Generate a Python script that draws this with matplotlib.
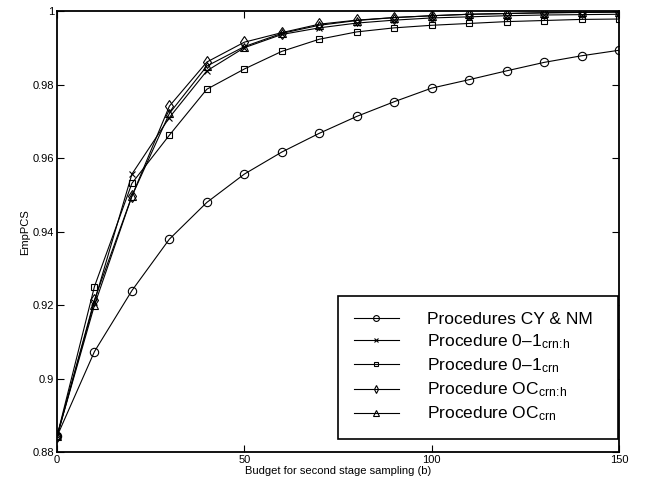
import numpy as np
import matplotlib
matplotlib.use("Agg")
import matplotlib.pyplot as plt

# === Data ===
budget = [0, 10, 20, 30, 40, 50, 60, 70, 80, 90, 100, 110, 120, 130, 140, 150]

cy_nm = [0.8843, 0.9074, 0.9240, 0.9380, 0.9480, 0.9557, 0.9617, 0.9668,
         0.9714, 0.9754, 0.9791, 0.9814, 0.9838, 0.9861, 0.9879, 0.9894]
zo_crnh = [0.8843, 0.9210, 0.9557, 0.9711, 0.9838, 0.9901, 0.9937, 0.9955,
           0.9968, 0.9976, 0.9982, 0.9985, 0.9988, 0.9990, 0.9991, 0.9992]
zo_crn = [0.8843, 0.9251, 0.9532, 0.9663, 0.9788, 0.9843, 0.9891, 0.9924,
          0.9944, 0.9955, 0.9962, 0.9967, 0.9972, 0.9975, 0.9978, 0.9979]
oc_crnh = [0.8843, 0.9215, 0.9497, 0.9742, 0.9862, 0.9916, 0.9942, 0.9965,
           0.9976, 0.9983, 0.9988, 0.9992, 0.9994, 0.9996, 0.9997, 0.9998]
oc_crn = [0.8843, 0.9200, 0.9497, 0.9722, 0.9851, 0.9904, 0.9940, 0.9962,
          0.9975, 0.9983, 0.9988, 0.9992, 0.9994, 0.9996, 0.9997, 0.9998]

labels = [
    "Procedures CY & NM",
    "Procedure 0\u20131$_{\\mathrm{crn\\!:\\!h}}$",
    "Procedure 0\u20131$_{\\mathrm{crn}}$",
    "Procedure OC$_{\\mathrm{crn\\!:\\!h}}$",
    "Procedure OC$_{\\mathrm{crn}}$",
]
series = [cy_nm, zo_crnh, zo_crn, oc_crnh, oc_crn]
markers = ["o", "x", "s", "d", "^"]
msizes = [6, 4, 5, 6, 6]

# === Style ===
plt.rcParams["font.family"] = ["Liberation Sans", "DejaVu Sans"]
plt.rcParams["mathtext.fontset"] = "custom"
plt.rcParams["mathtext.rm"] = "Liberation Sans"
plt.rcParams["mathtext.it"] = "Liberation Sans:italic"

fig = plt.figure(figsize=(6.46, 4.88), dpi=100)
ax = fig.add_axes([0.0882, 0.0732, 0.870, 0.9036])

for y, lab, m, ms in zip(series, labels, markers, msizes):
    ax.plot(budget, y, color="black", linewidth=0.8, marker=m, markersize=ms,
            markerfacecolor="none", markeredgecolor="black", markeredgewidth=0.8,
            label=lab)

ax.set_xlim(0, 150)
ax.set_ylim(0.88, 1.0)
ax.set_xticks([0, 50, 100, 150])
ax.set_yticks([0.88, 0.9, 0.92, 0.94, 0.96, 0.98, 1.0])
ax.set_yticklabels(["0.88", "0.9", "0.92", "0.94", "0.96", "0.98", "1"])
ax.tick_params(direction="in", top=True, right=True, labelsize=8, length=5, width=0.8, pad=2)
for sp in ax.spines.values():
    sp.set_linewidth(1.3)

ax.set_xlabel("Budget for second stage sampling (b)", fontsize=8, labelpad=1)
ax.set_ylabel("EmpPCS", fontsize=8, labelpad=2)

# Legend box spans x from 0.5 to ~0.998 in axes coords
leg = ax.legend(loc="lower left", bbox_to_anchor=(0.5, 0.03, 0.498, 0.4), mode="expand",
                borderaxespad=0, fontsize=12.5, fancybox=False, framealpha=1,
                edgecolor="black", handlelength=2.6, handletextpad=1.6,
                labelspacing=0.31, borderpad=0.9, markerscale=0.7)
leg.get_frame().set_linewidth(1.2)

# === Save ===
plt.savefig("out.png", dpi=100)
